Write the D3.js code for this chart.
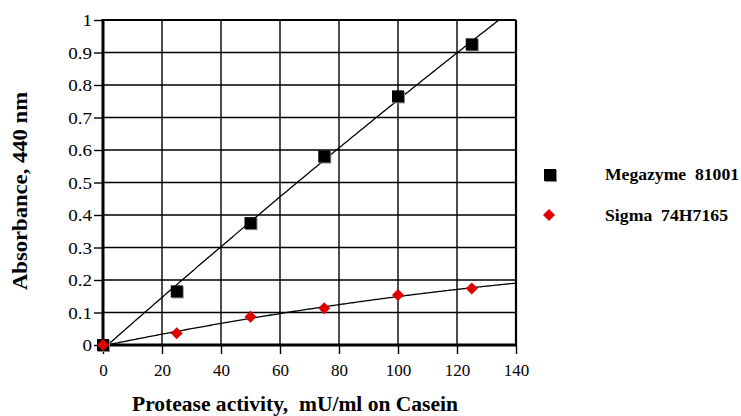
<!DOCTYPE html>
<html>
<head>
<meta charset="utf-8">
<script src="https://cdn.jsdelivr.net/npm/d3@7"></script>
<style>
  body { margin: 0; background: #fff; }
  svg .tick text { font-family: "Liberation Serif", serif !important; font-size: 17px !important; }
</style>
</head>
<body>
<script>
// donnees
const activity = [0, 25, 50, 75, 100, 125]
const megazyme = [0, 0.165, 0.375, 0.58, 0.765, 0.925]
const sigma = [0, 0.036, 0.087, 0.113, 0.154, 0.174]
const xTicks = [0, 20, 40, 60, 80, 100, 120, 140]
const yTicks = [0, 0.1, 0.2, 0.3, 0.4, 0.5, 0.6, 0.7, 0.8, 0.9, 1]
const seriesNames = ["Megazyme  81001", "Sigma  74H7165"]

const FONT = "Liberation Serif, serif"
const W = 741, H = 416
const svg = d3.select("body").append("svg").attr("width", W).attr("height", H)
  .attr("font-family", FONT)

const x = d3.scaleLinear().domain([0, 140]).range([103, 516])
const y = d3.scaleLinear().domain([0, 1]).range([345, 20])

// grille
svg.append("g").selectAll("line").data(xTicks.slice(1, -1)).join("line")
  .attr("x1", d => x(d)).attr("x2", d => x(d))
  .attr("y1", y(0)).attr("y2", y(1))
  .attr("stroke", "#000").attr("stroke-width", 1.4)
svg.append("g").selectAll("line").data(yTicks.slice(1, -1)).join("line")
  .attr("x1", x(0)).attr("x2", x(140))
  .attr("y1", d => y(d)).attr("y2", d => y(d))
  .attr("stroke", "#000").attr("stroke-width", 1.4)

// axes
const xAxis = svg.append("g").attr("transform", "translate(0," + y(0) + ")")
  .call(d3.axisBottom(x).tickValues(xTicks).tickSize(9).tickPadding(4).tickFormat(d3.format("d")))
const yAxis = svg.append("g").attr("transform", "translate(" + x(0) + ",0)")
  .call(d3.axisLeft(y).tickValues(yTicks).tickSize(9).tickPadding(2).tickFormat(d => d === 0 || d === 1 ? d : d3.format(".1f")(d)))
for (const a of [xAxis, yAxis]) {
  a.attr("font-family", FONT).attr("font-size", 17)
  a.select(".domain").remove()
  a.selectAll(".tick line").attr("stroke", "#000").attr("stroke-width", 1.4)
  a.selectAll(".tick text").attr("fill", "#000").attr("font-family", FONT).attr("font-size", 17)
}
xAxis.selectAll(".tick text").attr("dy", null).attr("y", 31)
yAxis.selectAll(".tick text").attr("dy", "0.34em")
  .each(function () {
    // les etiquettes de l'axe y sont un peu plus larges dans l'original
    const len = this.getComputedTextLength()
    d3.select(this).attr("textLength", len * 1.12).attr("lengthAdjust", "spacingAndGlyphs")
  })

// cadre
svg.append("line").attr("x1", x(0)).attr("x2", x(140)).attr("y1", y(1)).attr("y2", y(1))
  .attr("stroke", "#000").attr("stroke-width", 2)
svg.append("line").attr("x1", x(140)).attr("x2", x(140)).attr("y1", y(1)).attr("y2", y(0))
  .attr("stroke", "#000").attr("stroke-width", 2.2)
svg.append("line").attr("x1", x(0)).attr("x2", x(0)).attr("y1", y(1) - 1).attr("y2", y(0) + 1.5)
  .attr("stroke", "#000").attr("stroke-width", 3)
svg.append("line").attr("x1", x(0) - 1.5).attr("x2", x(140) + 1).attr("y1", y(0)).attr("y2", y(0))
  .attr("stroke", "#000").attr("stroke-width", 3.2)

// ajustement polynomial (degre 2, moindres carres) comme dans le graphique d'origine
function polyFit(xs, ys) {
  const n = xs.length
  let s = [0, 0, 0, 0, 0], t = [0, 0, 0]
  for (let i = 0; i < n; i++) {
    for (let k = 0; k < 5; k++) s[k] += Math.pow(xs[i], k)
    for (let k = 0; k < 3; k++) t[k] += ys[i] * Math.pow(xs[i], k)
  }
  const M = [[s[0], s[1], s[2], t[0]], [s[1], s[2], s[3], t[1]], [s[2], s[3], s[4], t[2]]]
  for (let i = 0; i < 3; i++) {
    for (let j = i + 1; j < 3; j++) {
      const f = M[j][i] / M[i][i]
      for (let k = i; k < 4; k++) M[j][k] -= f * M[i][k]
    }
  }
  const c = [0, 0, 0]
  for (let i = 2; i >= 0; i--) {
    let v = M[i][3]
    for (let k = i + 1; k < 3; k++) v -= M[i][k] * c[k]
    c[i] = v / M[i][i]
  }
  return xv => c[0] + c[1] * xv + c[2] * xv * xv
}

svg.append("clipPath").attr("id", "plot")
  .append("rect").attr("x", x(0)).attr("y", y(1)).attr("width", x(140) - x(0)).attr("height", y(0) - y(1))

const line = d3.line().x(d => x(d[0])).y(d => y(d[1]))
for (const ys of [megazyme, sigma]) {
  const f = polyFit(activity, ys)
  const pts = d3.range(0, 140.5, 0.5).map(v => [v, f(v)])
  svg.append("path").attr("d", line(pts)).attr("fill", "none")
    .attr("stroke", "#000").attr("stroke-width", 1.3).attr("clip-path", "url(#plot)")
}

// points
function square(g, cx, cy) {
  g.append("rect").attr("x", cx - 5).attr("y", cy - 5).attr("width", 12).attr("height", 12).attr("fill", "#888")
  g.append("rect").attr("x", cx - 6).attr("y", cy - 6).attr("width", 12).attr("height", 12).attr("fill", "#000")
}
function diamond(g, cx, cy) {
  g.append("path").attr("d", `M${cx},${cy - 6}L${cx + 6},${cy}L${cx},${cy + 6}L${cx - 6},${cy}Z`).attr("fill", "#e00000")
}
const marks = svg.append("g")
activity.forEach((a, i) => square(marks, x(a), y(megazyme[i])))
activity.forEach((a, i) => diamond(marks, x(a), y(sigma[i])))

// legende
const leg = svg.append("g")
square(leg, 550, 175)
diamond(leg, 549, 215)
const legWidths = [134, 123]
leg.selectAll("text").data(seriesNames).join("text")
  .attr("x", 605).attr("y", (d, i) => 179.5 + i * 41.5)
  .attr("textLength", (d, i) => legWidths[i]).attr("lengthAdjust", "spacingAndGlyphs")
  .attr("font-size", 17).attr("font-weight", "bold").style("white-space", "pre")
  .text(d => d)

// titres des axes
svg.append("text").attr("x", 132).attr("y", 410.5)
  .attr("textLength", 326).attr("lengthAdjust", "spacingAndGlyphs")
  .attr("font-size", 20).attr("font-weight", "bold").style("white-space", "pre")
  .text("Protease activity,  mU/ml on Casein")
svg.append("text").attr("transform", "translate(27,290) rotate(-90)")
  .attr("textLength", 198).attr("lengthAdjust", "spacingAndGlyphs")
  .attr("font-size", 20).attr("font-weight", "bold")
  .text("Absorbance, 440 nm")
</script>
</body>
</html>
